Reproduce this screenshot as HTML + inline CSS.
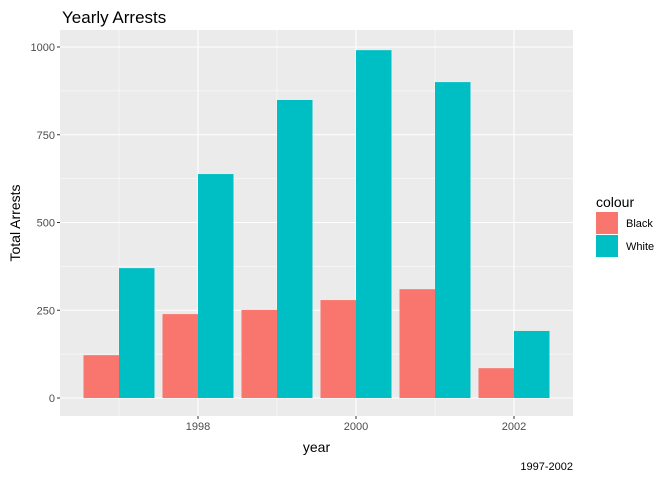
<!DOCTYPE html>
<html><head><meta charset="utf-8"><style>body{margin:0;background:#fff}svg{font-family:"Liberation Sans",Arial,sans-serif}</style></head>
<body>
<svg id="c" width="672" height="480"></svg>
<script>
const years=[1997,1998,1999,2000,2001,2002];
const blackVals=[122,239,251,279,310,85];
const whiteVals=[370,638,849,991,900,191];
const yTicks=[0,250,500,750,1000];
const xTicks=[1998,2000,2002];
const L=60,R=573,T=30,B=416;
const x=v=>119+(v-1997)*79;
const y=v=>398-v*0.351;
const svg=document.getElementById('c');
const NS='http://www.w3.org/2000/svg';
function mk(tag,attrs,text){const e=document.createElementNS(NS,tag);for(const k in attrs)e.setAttribute(k,attrs[k]);if(text!==undefined)e.textContent=text;svg.appendChild(e);return e;}
let e=mk('rect',{x:L,y:T,width:R-L,height:B-T,fill:'#ebebeb'});


for(let i=0;i<yTicks.length-1;i++){const v=(yTicks[i]+yTicks[i+1])/2;mk('line',{x1:L,x2:R,y1:y(v),y2:y(v),stroke:'#fff','stroke-width':0.5});}
mk('line',{x1:L,x2:R,y1:y(1125),y2:y(1125),stroke:'#fff','stroke-width':0.5});
[1997,1999,2001].forEach(v=>mk('line',{x1:x(v),x2:x(v),y1:T,y2:B,stroke:'#fff','stroke-width':0.5}));
yTicks.forEach(v=>{mk('line',{x1:L,x2:R,y1:y(v),y2:y(v),stroke:'#fff','stroke-width':1.1});
 e=mk('text',{x:L-5,y:y(v)+4,'text-anchor':'end','font-size':11,fill:'#4d4d4d'},v);
 
 mk('line',{x1:L-3,x2:L,y1:y(v),y2:y(v),stroke:'#333'});});
xTicks.forEach(v=>{mk('line',{x1:x(v),x2:x(v),y1:T,y2:B,stroke:'#fff','stroke-width':1.1});
 e=mk('text',{x:x(v),y:B+14,'text-anchor':'middle','font-size':11,fill:'#4d4d4d'},v);
 
 mk('line',{x1:x(v),x2:x(v),y1:B,y2:B+3,stroke:'#333'});});
const bw=35.5;
years.forEach((yr,i)=>{
 let b=mk('rect',{x:x(yr)-bw,y:y(blackVals[i]),width:bw,height:y(0)-y(blackVals[i]),fill:'#f8766d'});
 
 
 let w=mk('rect',{x:x(yr),y:y(whiteVals[i]),width:bw,height:y(0)-y(whiteVals[i]),fill:'#00bfc4'});
 
 
});
e=mk('text',{x:62,y:23,'font-size':17,fill:'#000'},'Yearly Arrests');

e=mk('text',{x:(L+R)/2,y:452,'text-anchor':'middle','font-size':14,fill:'#000'},'year');

e=mk('text',{x:0,y:0,'text-anchor':'middle','font-size':14,fill:'#000',transform:'translate(20,223) rotate(-90)'},'Total Arrests');

e=mk('text',{x:R,y:470,'text-anchor':'end','font-size':11,fill:'#000'},'1997-2002');

e=mk('text',{x:596,y:207,'font-size':14,fill:'#000'},'colour');

[['Black','#f8766d'],['White','#00bfc4']].forEach((d,i)=>{
 let k=mk('rect',{x:596,y:212+i*23,width:22,height:22,fill:d[1]});
 
 
 let t=mk('text',{x:626,y:227+i*23,'font-size':11,fill:'#000'},d[0]);
 
 
});
</script>
</body></html>
